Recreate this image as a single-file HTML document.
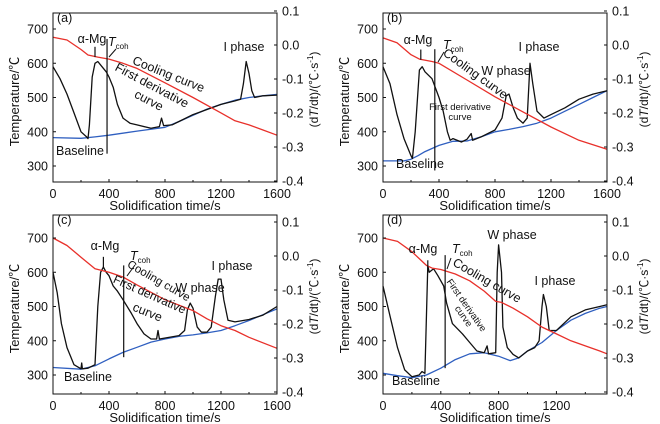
<!DOCTYPE html>
<html><head><meta charset="utf-8">
<style>
html,body{margin:0;padding:0;background:#fff;}
svg{display:block;font-family:"Liberation Sans","Noto Sans CJK SC",sans-serif;}
</style></head>
<body>
<svg id="chart" width="660" height="424" viewBox="0 0 660 424" xmlns="http://www.w3.org/2000/svg"></svg>
<script>
// ---- data (temperature in ℃ on left axis scale; t in s) ----
const xTicksA = [0,400,800,1200,1600];
const xTicksD = [0,400,800,1200];
const yTicksLeft = [300,400,500,600,700];
const yTicksRight = ["0.1","0.0","-0.1","-0.2","-0.3","-0.4"];

const coolA_t = [0,100,200,250,320,400,500,600,800,1000,1200,1300,1400,1500,1600];
const coolA_v = [676,668,640,624,618,612,600,585,543,500,455,432,420,405,390];
const baseA_t = [0,200,300,400,600,800,900,1000,1100,1200,1300,1400,1500,1600];
const baseA_v = [383,381,385,390,402,413,430,448,466,480,492,500,505,509];
const derA_t = [0,50,100,150,200,240,250,260,280,300,320,350,380,400,430,460,500,550,600,700,760,775,790,850,900,1000,1100,1200,1300,1340,1360,1380,1400,1420,1440,1500,1600];
const derA_v = [590,555,510,455,400,385,380,420,560,600,605,590,575,560,530,480,440,425,420,410,415,440,418,420,430,450,465,480,490,495,540,605,570,520,500,505,507];

const coolB_t = [0,100,200,260,350,400,600,800,1000,1200,1400,1600];
const coolB_v = [674,660,625,612,605,600,551,502,458,414,375,349];
const baseB_t = [0,150,200,250,300,400,500,600,700,800,900,1000,1100,1200,1300,1400,1500,1600];
const baseB_v = [315,315,320,330,342,360,372,373,385,400,407,415,425,440,460,480,500,520];
const derB_t = [0,50,100,150,200,210,230,260,280,300,350,400,430,460,480,500,560,600,630,640,700,800,850,880,900,930,960,1000,1030,1050,1070,1100,1150,1200,1300,1400,1500,1600];
const derB_v = [590,540,450,380,330,322,400,580,590,575,555,500,460,400,375,380,370,378,395,375,385,405,440,505,510,470,440,425,440,600,540,460,440,450,470,495,510,520];

const coolC_t = [0,100,200,300,400,500,600,800,1000,1100,1200,1300,1400,1600];
const coolC_v = [700,678,644,610,600,586,563,520,488,464,444,430,410,378];
const baseC_t = [0,200,300,400,500,600,700,800,900,1000,1100,1200,1300,1400,1500,1600];
const baseC_v = [322,317,327,347,366,381,396,405,413,417,423,430,444,459,476,493];
const derC_t = [0,30,60,100,150,200,205,210,250,300,320,340,360,380,400,430,460,500,560,600,650,700,740,750,760,900,940,960,980,1000,1030,1060,1100,1130,1160,1180,1200,1220,1250,1300,1400,1500,1600];
const derC_v = [600,540,450,380,330,318,335,318,320,330,500,600,615,600,590,560,545,520,480,450,420,405,405,430,405,415,430,490,510,495,440,425,425,440,530,580,580,520,460,455,462,475,500];

const coolD_t = [0,100,200,300,340,400,500,600,700,780,820,900,1000,1100,1200,1300,1400,1500,1550];
const coolD_v = [700,690,660,620,612,608,595,575,545,515,512,495,470,440,420,400,385,370,362];
const baseD_t = [0,100,200,300,400,500,600,700,800,880,940,1000,1100,1200,1300,1400,1500,1550];
const baseD_v = [305,298,292,300,320,345,362,365,355,342,350,370,395,430,460,480,495,500];
const derD_t = [0,50,100,150,200,250,270,290,310,320,350,380,420,440,480,550,600,650,700,720,730,780,790,800,820,830,860,900,940,1000,1050,1080,1100,1110,1130,1150,1200,1300,1400,1500,1550];
const derD_v = [560,470,380,315,295,300,310,305,620,600,610,590,560,510,450,420,395,370,365,385,362,365,600,680,600,440,380,360,350,370,380,400,500,535,500,430,430,470,490,500,505];

// markers: alpha-Mg line (t, top), Tcoh line (t, low, high)
const alphaMark = [[300,648],[270,640],[360,645],[310,635]];
const tcohMark = [[386,336,671],[370,287,641],[505,352,620],[430,320,650]];

const NS="http://www.w3.org/2000/svg";
const svg=document.getElementById('chart');
function el(tag,attrs,parent){const e=document.createElementNS(NS,tag);for(const k in attrs)e.setAttribute(k,attrs[k]);(parent||svg).appendChild(e);return e;}

const panels=[
 {id:'a',ox:0,oy:0,y700:29,top:13,bot:182,r01:11,tmax:1600,xt:xTicksA,cool:[coolA_t,coolA_v],base:[baseA_t,baseA_v],der:[derA_t,derA_v],m:0},
 {id:'b',ox:330,oy:0,y700:29,top:13,bot:182,r01:11,tmax:1600,xt:xTicksA,cool:[coolB_t,coolB_v],base:[baseB_t,baseB_v],der:[derB_t,derB_v],m:1},
 {id:'c',ox:0,oy:212,y700:26,top:3,bot:182,r01:10,tmax:1600,xt:xTicksA,cool:[coolC_t,coolC_v],base:[baseC_t,baseC_v],der:[derC_t,derC_v],m:2},
 {id:'d',ox:330,oy:212,y700:26,top:3,bot:182,r01:10,tmax:1550,xt:xTicksD,cool:[coolD_t,coolD_v],base:[baseD_t,baseD_v],der:[derD_t,derD_v],m:3}
];

function txt(g,x,y,s,opts){const t=el('text',Object.assign({x:x,y:y,'font-size':12,fill:'#111'},opts||{}),g);t.textContent=s;return t;}

panels.forEach(p=>{
 const g=el('g',{transform:`translate(${p.ox},${p.oy})`});
 
 
 const L=53,R=277;
 const sx=t=>L+t*(R-L)/p.tmax;
 const sy=T=>p.y700+(700-T)*0.3425;
 const line=(arr,color,name,w)=>{
  const pts=arr[0].map((t,i)=>sx(t).toFixed(1)+','+sy(arr[1][i]).toFixed(1)).join(' ');
  const pl=el('polyline',{points:pts,fill:'none',stroke:color,'stroke-width':w,'stroke-linejoin':'round'},g);
  
  
 };
 line(p.base,'#2f5fc0','baseline-curve',1.3);
 line(p.der,'#111','first-derivative-curve',1.3);
 line(p.cool,'#e8302a','cooling-curve',1.3);
 const a=alphaMark[p.m], tc=tcohMark[p.m];
 el('line',{x1:sx(a[0]),x2:sx(a[0]),y1:sy(a[1]-30),y2:sy(a[1]),stroke:'#111','stroke-width':1.2},g);
 el('line',{x1:sx(tc[0]),x2:sx(tc[0]),y1:sy(tc[1]),y2:sy(tc[2]),stroke:'#111','stroke-width':1.2},g);
 const box=el('rect',{x:L,y:p.top,width:R-L,height:p.bot-p.top,fill:'none',stroke:'#111','stroke-width':1},g);
 
 
 yTicksLeft.forEach(v=>{const y=sy(v);el('line',{x1:L,x2:L+3,y1:y,y2:y,stroke:'#111'},g);
  const t=txt(g,L-5,y+4.5,String(v),{'text-anchor':'end','font-size':12.5});
  });
 yTicksRight.forEach((s,i)=>{const y=p.r01+i*34;el('line',{x1:R-3,x2:R,y1:y,y2:y,stroke:'#111'},g);
  const t=txt(g,R+5,y+4.5,s,{'font-size':12.5});
  });
 p.xt.forEach(v=>{const x=sx(v);el('line',{x1:x,x2:x,y1:p.bot,y2:p.bot-3,stroke:'#111'},g);
  const t=txt(g,x,p.bot+16,String(v),{'text-anchor':'middle','font-size':12.5});
  });
 for(let v=200;v<p.tmax;v+=400){const x=sx(v);el('line',{x1:x,x2:x,y1:p.bot,y2:p.bot-2,stroke:'#111'},g);}
 const xt=txt(g,165,p.bot+28,'Solidification time/s',{'text-anchor':'middle','font-size':13});
 
 const yt=txt(g,0,0,'Temperature/℃',{'text-anchor':'middle','font-size':13,transform:`translate(19,${(p.top+p.bot)/2+4}) rotate(-90)`});
 
 const y2=el('text',{'text-anchor':'middle','font-size':12,fill:'#111',transform:`translate(318,${(p.top+p.bot)/2-8}) rotate(-90)`},g);
 y2.innerHTML='(d<tspan font-style="italic">T</tspan>/dt)/(℃·s<tspan font-size="8" dy="-5">-1</tspan><tspan dy="5">)</tspan>';
 
 const pl=txt(g,57,p.top+9,'('+p.id+')',{'font-size':12.5});
 
 const ann={
  a:{am:[92,p.y700+14],tc:[108,p.y700+17],ar:[[116,49],[109,57]],ip:[244,p.y700+22],cool:[167,78,22,'Cooling curve',12.5],fd:[[150,89,28,'First derivative',12.5],[147,104,28,'curve',12.5]],bl:[80,p.bot-27],wp:null},
  b:{am:[88,p.y700+15],tc:[113,p.y700+20],ar:[[114,52],[108,62]],ip:[209,p.y700+22],cool:[143,77,36,'Cooling curve',12.5],fd:[[130,110,0,'First derivative',9.5],[130,120,0,'curve',9.5]],bl:[90,p.bot-14],wp:[176,75]},
  c:{am:[105,p.y700+12],tc:[130,p.y700+22],ar:[[135,53],[127,64]],ip:[232,p.y700+32],cool:[157,72,30,'Cooling curve',11.5],fd:[[148,86,24,'First derivative',12],[146,104,22,'curve',12.5]],bl:[88,p.bot-13],wp:[200,80]},
  d:{am:[93,p.y700+15],tc:[122,p.y700+15],ar:[[121,46],[117,57]],ip:[225,p.y700+47],cool:[155,72,30,'Cooling curve',12.5],fd:[[134,95,55,'First derivative',9.5],[131,106,55,'curve',9.5]],bl:[86,p.bot-9],wp:[182,27]}
 }[p.id];
 let t;
 t=txt(g,ann.am[0],ann.am[1],'α-Mg',{'text-anchor':'middle','font-size':12.5});
 t=el('text',{x:ann.tc[0],y:ann.tc[1],'font-size':12.5,fill:'#111'},g);
 t.innerHTML='<tspan font-style="italic">T</tspan><tspan font-size="8" dy="3">coh</tspan>';
 
 el('line',{x1:ann.ar[0][0],y1:ann.ar[0][1],x2:ann.ar[1][0],y2:ann.ar[1][1],stroke:'#111','stroke-width':1},g);
 t=txt(g,ann.ip[0],ann.ip[1],'I phase',{'text-anchor':'middle','font-size':12.5});
 if(ann.wp){t=txt(g,ann.wp[0],ann.wp[1],'W phase',{'text-anchor':'middle','font-size':12.5});}
 t=txt(g,0,0,ann.cool[3],{'text-anchor':'middle','font-size':ann.cool[4],transform:`translate(${ann.cool[0]},${ann.cool[1]}) rotate(${ann.cool[2]})`});
 ann.fd.forEach(f=>{t=txt(g,0,0,f[3],{'text-anchor':'middle','font-size':f[4],transform:`translate(${f[0]},${f[1]}) rotate(${f[2]})`});});
 t=txt(g,ann.bl[0],ann.bl[1],'Baseline',{'text-anchor':'middle','font-size':12.5});
});
</script>
</body></html>
